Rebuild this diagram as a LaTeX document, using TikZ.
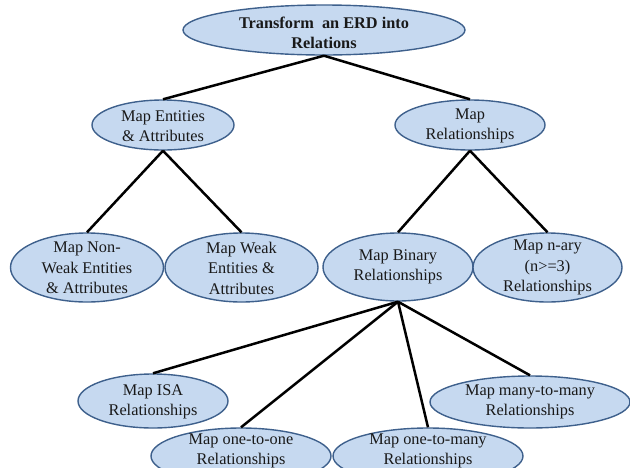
\documentclass[tikz,border=0pt]{standalone}
\usepackage{fontspec}
\setmainfont{Liberation Serif}
\usetikzlibrary{shapes.geometric}
\definecolor{ellfill}{RGB}{198,217,240}
\definecolor{elldraw}{RGB}{62,96,140}
\begin{document}
\begin{tikzpicture}[x=1pt,y=-1pt,
  ell/.style={ellipse, draw=elldraw, fill=ellfill, line width=1.4pt, inner sep=0pt},
  txt/.style={align=center, inner sep=0pt, text=black!90, font=\fontsize{16.3}{20.5}\selectfont},
  link/.style={line width=2.5pt, black}]
\useasboundingbox (0,0) rectangle (630,467);
\clip (0,0) rectangle (630,467);
% ellipses
\node[ell, minimum width=282pt, minimum height=50pt] (top) at (324,30) {};
\node[ell, minimum width=142pt, minimum height=50pt] (ent) at (163,125) {};
\node[ell, minimum width=150pt, minimum height=50pt] (rel) at (470,125) {};
\node[ell, minimum width=153pt, minimum height=69pt] (nonweak) at (87,267.5) {};
\node[ell, minimum width=153pt, minimum height=69pt] (weak) at (241.5,267.5) {};
\node[ell, minimum width=150pt, minimum height=68pt] (bin) at (398,267) {};
\node[ell, minimum width=149pt, minimum height=69pt] (nary) at (547.5,267.5) {};
\node[ell, minimum width=150pt, minimum height=54pt] (isa) at (153,401) {};
\node[ell, minimum width=180pt, minimum height=56pt] (oneone) at (241,456) {};
\node[ell, minimum width=190pt, minimum height=56pt] (onemany) at (428,456) {};
\node[ell, minimum width=200pt, minimum height=52pt] (manymany) at (530,402) {};
% texts
\node[txt, font=\fontsize{16.3}{20}\selectfont\bfseries] (topt) at (324,33) {Transform\ \ an ERD into\\Relations};
\node[txt] (entt) at (163,126) {Map Entities\\\& Attributes};
\node[txt] (relt) at (470,126) {Map\\Relationships};
\node[txt] (nonweakt) at (87,268) {Map Non-\\Weak Entities\\\& Attributes};
\node[txt] (weakt) at (241.5,268) {Map Weak\\Entities \&\\Attributes};
\node[txt] (bint) at (398,267) {Map Binary\\Relationships};
\node[txt] (naryt) at (547.5,267.5) {Map n-ary\\(n>=3)\\Relationships};
\node[txt] (isat) at (153,402) {Map ISA\\Relationships};
\node[txt] (oneonet) at (241,451) {Map one-to-one\\Relationships};
\node[txt] (onemanyt) at (428,451) {Map one-to-many\\Relationships};
\node[txt] (manymanyt) at (530,402) {Map many-to-many\\Relationships};
% connectors
\draw[link] (top.south) -- (ent.north);
\draw[link] (top.south) -- (rel.north);
\draw[link] (ent.south) -- (nonweak.north);
\draw[link] (ent.south) -- (weak.north);
\draw[link] (rel.south) -- (bin.north);
\draw[link] (rel.south) -- (nary.north);
\draw[link] (bin.south) -- (isa.north);
\draw[link] (bin.south) -- (oneone.north);
\draw[link] (bin.south) -- (onemany.north);
\draw[link] (bin.south) -- (manymany.north);
\end{tikzpicture}
\end{document}
